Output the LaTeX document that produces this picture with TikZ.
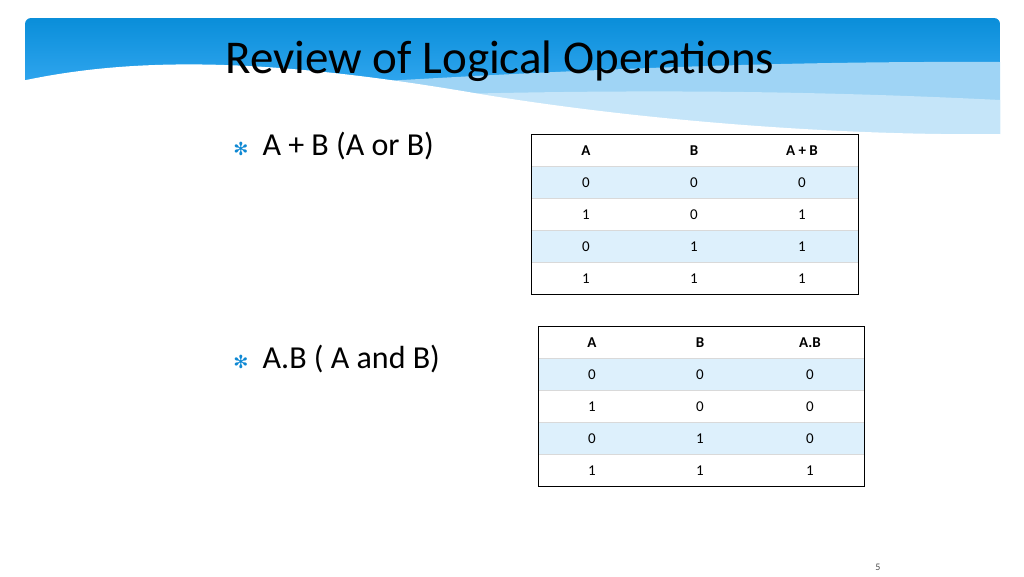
\documentclass[tikz,border=0pt]{standalone}
\usepackage{fontspec}
\setmainfont{Carlito}
\newfontfamily\symf{DejaVu Sans}
\begin{document}
\begin{tikzpicture}[x=1pt,y=-1pt,
  cell/.style={font=\fontsize{15}{17}\selectfont,anchor=center},
  hdr/.style={font=\fontsize{15}{17}\selectfont\bfseries,anchor=center},
  bul/.style={font=\fontsize{32}{36}\selectfont,anchor=base west},
  star/.style={text=cyan!70!blue,font=\symf\fontsize{18}{20}\selectfont,anchor=base}]
\useasboundingbox (0,0) rectangle (1024,576);
\definecolor{dblue}{HTML}{0A8ED9}
\definecolor{lblue}{HTML}{9FD4F5}
\definecolor{rowb}{HTML}{DDF0FC}
% banner
\shade[top color=dblue,bottom color=cyan!60!blue!70, rounded corners=6pt] (25,18) rectangle (1000,134);
\fill[lblue] (25,100) .. controls (300,90) and (600,60) .. (1000,62) -- (1000,134) -- (25,134) -- cycle;
\fill[lblue!60] (25,110) .. controls (300,100) and (600,80) .. (1000,100) -- (1000,134) -- (25,134) -- cycle;
\fill[white] (0,86) .. controls (120,56) and (260,56) .. (480,94) .. controls (650,122) and (850,136) .. (1000,134) -- (1000,150) -- (0,150) -- cycle;
\node[font=\fontsize{47}{52}\selectfont,anchor=base west] (title) at (222,73) {Review of Logical Operations};
% bullets
\node[star] (s1) at (241,155) {✻};
\node[bul] (b1) at (259,155) {A + B (A or B)};
\node[star] (s2) at (241,368) {✻};
\node[bul] (b2) at (259,368) {A.B ( A and B)};
% table 1
\fill[rowb] (531,166) rectangle (858,198);
\fill[rowb] (531,230) rectangle (858,262);
\draw[white!85!black,line width=0.5pt] (531,166)--(858,166) (531,198)--(858,198) (531,230)--(858,230) (531,262)--(858,262);
\draw[line width=0.8pt] (531,134) rectangle (858,294);
\node[hdr] (t1h1) at (586,151) {A};
\node[hdr] (t1h2) at (694,151) {B};
\node[hdr] (t1h3) at (802,151) {A + B};
\foreach \r/\a/\b/\c in {0/0/0/0,1/1/0/1,2/0/1/1,3/1/1/1}{
  \node[cell] (t1a\r) at (586,183+32*\r) {\a};
  \node[cell] (t1b\r) at (694,183+32*\r) {\b};
  \node[cell] (t1c\r) at (802,183+32*\r) {\c};
}
% table 2
\fill[rowb] (538,358) rectangle (864,390);
\fill[rowb] (538,422) rectangle (864,454);
\draw[white!85!black,line width=0.5pt] (538,358)--(864,358) (538,390)--(864,390) (538,422)--(864,422) (538,454)--(864,454);
\draw[line width=0.8pt] (538,326) rectangle (864,486);
\node[hdr] (t2h1) at (592,343) {A};
\node[hdr] (t2h2) at (700,343) {B};
\node[hdr] (t2h3) at (810,343) {A.B};
\foreach \r/\a/\b/\c in {0/0/0/0,1/1/0/0,2/0/1/0,3/1/1/1}{
  \node[cell] (t2a\r) at (592,375+32*\r) {\a};
  \node[cell] (t2b\r) at (700,375+32*\r) {\b};
  \node[cell] (t2c\r) at (810,375+32*\r) {\c};
}
\node[font=\fontsize{10}{12}\selectfont,text=black!70] (pg) at (878,567) {5};
\end{tikzpicture}
\end{document}
